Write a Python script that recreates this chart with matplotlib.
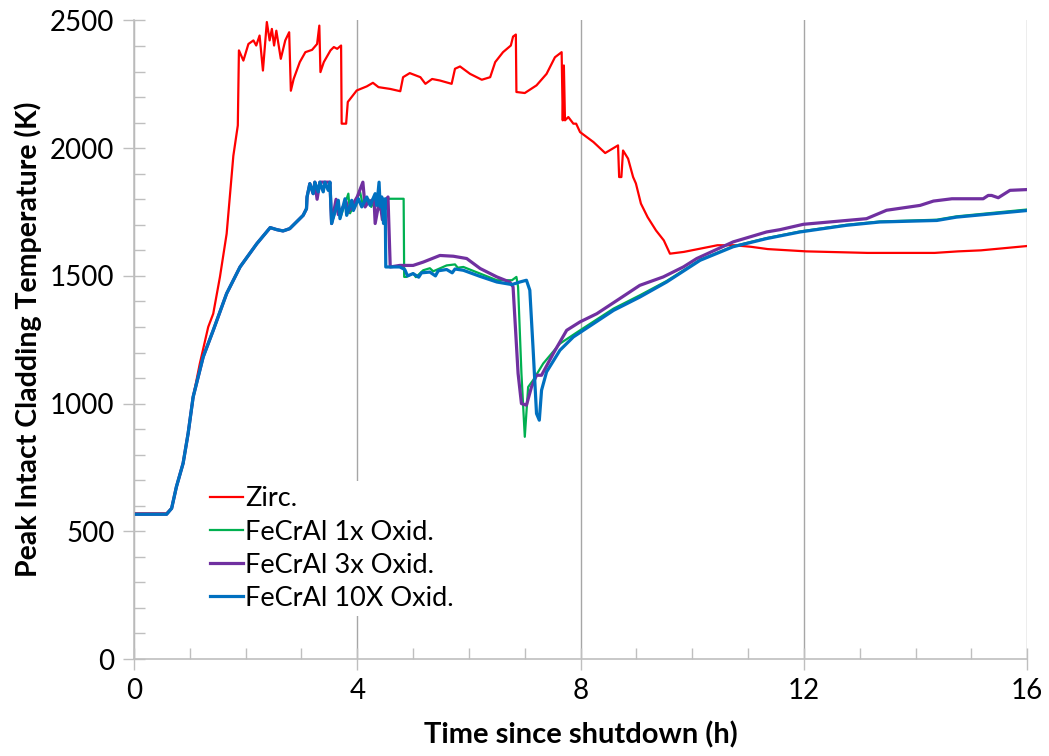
import matplotlib.pyplot as plt
from matplotlib.ticker import MultipleLocator

# time since shutdown (h) and peak cladding temperature (K) for each case
zirc_t = [0, 0.58, 0.675, 0.76, 0.88, 0.97, 1.06, 1.18, 1.33, 1.42, 1.54, 1.66, 1.78, 1.86,
          1.88, 1.96, 2.05, 2.14, 2.19, 2.25, 2.31, 2.38, 2.43, 2.47, 2.51, 2.55, 2.63, 2.71,
          2.78, 2.81, 2.86, 2.97, 3.07, 3.19, 3.28, 3.32, 3.34, 3.40, 3.52, 3.58, 3.64, 3.71,
          3.72, 3.80, 3.83, 3.99, 4.17, 4.28, 4.38, 4.59, 4.77, 4.82, 4.94, 5.13, 5.22, 5.34,
          5.48, 5.69, 5.75, 5.84, 6.02, 6.23, 6.38, 6.47, 6.61, 6.75, 6.79, 6.84, 6.85, 7.00,
          7.21, 7.39, 7.54, 7.66, 7.68, 7.70, 7.72, 7.78, 7.87, 7.92, 7.99, 8.23, 8.44, 8.67,
          8.69, 8.73, 8.76, 8.85, 8.94, 8.99, 9.08, 9.20, 9.35, 9.49, 9.60, 9.85, 10.15, 10.45,
          10.75, 11.05, 11.35, 12.04, 13.14, 14.34, 14.76, 15.17, 16.0]
zirc_T = [570, 570, 590, 674, 766, 883, 1026, 1157, 1300, 1352, 1496, 1665, 1970, 2089,
          2383, 2343, 2408, 2422, 2402, 2441, 2304, 2494, 2422, 2467, 2402, 2460, 2350, 2422,
          2454, 2225, 2271, 2337, 2376, 2385, 2408, 2480, 2298, 2337, 2383, 2396, 2389, 2402,
          2096, 2096, 2181, 2226, 2242, 2256, 2239, 2232, 2223, 2278, 2294, 2278, 2252, 2271,
          2265, 2252, 2311, 2320, 2291, 2268, 2278, 2337, 2376, 2402, 2437, 2445, 2220, 2216,
          2246, 2291, 2356, 2376, 2109, 2324, 2109, 2122, 2096, 2096, 2063, 2024, 1981, 2011,
          1887, 1887, 1991, 1959, 1887, 1862, 1783, 1730, 1678, 1639, 1587, 1594, 1607, 1620,
          1620, 1614, 1605, 1596, 1590, 1590, 1596, 1600, 1617]

ox1_t = [0, 0.585, 0.675, 0.76, 0.88, 0.97, 1.06, 1.24, 1.42, 1.66, 1.90, 2.20, 2.44, 2.56,
         2.67, 2.79, 2.91, 3.03, 3.09, 3.10, 3.15, 3.21, 3.24, 3.30, 3.33, 3.39, 3.42, 3.48,
         3.51, 3.54, 3.66, 3.70, 3.84, 3.87, 4.05, 4.10, 4.20, 4.25, 4.35, 4.40, 4.45, 4.50,
         4.55, 4.83, 4.84, 4.88, 5.00, 5.05, 5.18, 5.30, 5.36, 5.60, 5.75, 5.80, 5.90, 6.20,
         6.50, 6.77, 6.85, 6.88, 6.94, 7.00, 7.06, 7.15, 7.33, 7.63, 7.99, 8.59, 9.06, 9.54,
         10.14, 10.73, 11.33, 11.93, 12.76, 13.36, 14.38, 14.73, 16.0]
ox1_T = [567, 567, 590, 674, 766, 883, 1026, 1183, 1287, 1431, 1535, 1626, 1689, 1681,
         1676, 1685, 1711, 1737, 1763, 1809, 1861, 1822, 1867, 1829, 1867, 1829, 1867, 1835,
         1867, 1705, 1790, 1730, 1822, 1745, 1829, 1775, 1800, 1770, 1815, 1760, 1800, 1760,
         1802, 1802, 1496, 1496, 1510, 1495, 1522, 1530, 1518, 1541, 1545, 1532, 1535, 1509,
         1483, 1483, 1496, 1457, 1118, 870, 1065, 1092, 1157, 1235, 1287, 1372, 1424, 1480,
         1563, 1616, 1648, 1674, 1700, 1713, 1720, 1733, 1760]

ox3_t = [0, 0.585, 0.675, 0.76, 0.88, 0.97, 1.06, 1.24, 1.42, 1.66, 1.90, 2.20, 2.44, 2.56,
         2.67, 2.79, 2.91, 3.03, 3.09, 3.10, 3.15, 3.21, 3.24, 3.28, 3.33, 3.51, 3.54, 3.62,
         3.66, 3.80, 3.84, 4.00, 4.10, 4.14, 4.20, 4.30, 4.32, 4.40, 4.45, 4.52, 4.55, 4.59,
         4.76, 5.00, 5.18, 5.48, 5.72, 5.96, 6.20, 6.50, 6.73, 6.79, 6.88, 6.94, 7.03, 7.12,
         7.21, 7.30, 7.51, 7.75, 7.99, 8.29, 8.70, 9.06, 9.48, 9.84, 10.08, 10.73, 11.33,
         11.57, 11.99, 13.12, 13.48, 14.08, 14.32, 14.65, 15.21, 15.30, 15.36, 15.48, 15.69, 16.0]
ox3_T = [567, 567, 590, 674, 766, 883, 1026, 1183, 1287, 1431, 1535, 1626, 1689, 1681,
         1676, 1685, 1711, 1737, 1763, 1809, 1861, 1822, 1867, 1800, 1867, 1867, 1705, 1800,
         1740, 1790, 1750, 1810, 1867, 1770, 1790, 1800, 1705, 1800, 1720, 1800, 1809, 1535,
         1541, 1541, 1554, 1580, 1577, 1568, 1529, 1496, 1476, 1457, 1118, 1000, 994, 1065,
         1111, 1111, 1196, 1287, 1320, 1352, 1411, 1463, 1496, 1535, 1568, 1633, 1672,
         1681, 1702, 1724, 1757, 1776, 1793, 1802, 1802, 1815, 1815, 1806, 1835, 1838]

ox10_t = [0, 0.585, 0.675, 0.76, 0.88, 0.97, 1.06, 1.24, 1.42, 1.66, 1.90, 2.20, 2.44, 2.56,
          2.67, 2.79, 2.91, 3.03, 3.09, 3.10, 3.15, 3.21, 3.24, 3.30, 3.33, 3.39, 3.42, 3.48,
          3.51, 3.54, 3.66, 3.69, 3.78, 3.81, 3.90, 3.93, 4.02, 4.08, 4.17, 4.23, 4.32, 4.35,
          4.39, 4.41, 4.44, 4.47, 4.50, 4.51, 4.76, 4.85, 4.90, 5.00, 5.10, 5.15, 5.30, 5.40,
          5.45, 5.60, 5.70, 5.75, 5.90, 6.20, 6.50, 6.77, 6.91, 7.03, 7.09, 7.15, 7.21, 7.26,
          7.30, 7.39, 7.63, 7.87, 8.23, 8.59, 9.06, 9.54, 10.14, 10.73, 11.33, 11.93, 12.76,
          13.36, 14.38, 14.73, 16.0]
ox10_T = [567, 567, 590, 674, 766, 883, 1026, 1183, 1287, 1431, 1535, 1626, 1689, 1681,
          1676, 1685, 1711, 1737, 1763, 1809, 1861, 1822, 1867, 1829, 1867, 1829, 1867, 1835,
          1867, 1705, 1796, 1724, 1802, 1737, 1796, 1756, 1802, 1770, 1809, 1776, 1822, 1776,
          1867, 1770, 1809, 1705, 1802, 1535, 1535, 1525, 1500, 1509, 1495, 1512, 1515, 1500,
          1520, 1525, 1512, 1527, 1522, 1498, 1476, 1466, 1476, 1483, 1444, 1209, 961, 935,
          1052, 1124, 1209, 1261, 1313, 1365, 1417, 1476, 1561, 1614, 1646, 1672, 1698,
          1711, 1717, 1730, 1756]

plt.rcParams['font.family'] = ['Lato', 'DejaVu Sans']

fig = plt.figure(figsize=(10.49, 7.56), dpi=100)
ax = fig.add_axes([0.1277, 0.1283, 0.8516, 0.8446])

ax.plot(zirc_t, zirc_T, color='#FF0000', lw=1.6, label='Zirc.')
ax.plot(ox1_t, ox1_T, color='#00B050', lw=1.6, label='FeCrAl 1x Oxid.')
ax.plot(ox3_t, ox3_T, color='#7030A0', lw=2.3, label='FeCrAl 3x Oxid.')
ax.plot(ox10_t, ox10_T, color='#0070C0', lw=2.3, label='FeCrAl 10X Oxid.')

ax.set_xlim(0, 16)
ax.set_ylim(0, 2500)
ax.xaxis.set_major_locator(MultipleLocator(4))
ax.xaxis.set_minor_locator(MultipleLocator(1))
ax.yaxis.set_major_locator(MultipleLocator(500))
ax.yaxis.set_minor_locator(MultipleLocator(100))
ax.grid(axis='x', which='major', color='#A6A6A6', lw=1)
ax.set_axisbelow(True)

for side in ['top', 'right']:
    ax.spines[side].set_visible(False)
for side in ['left', 'bottom']:
    ax.spines[side].set_color('#BFBFBF')
    ax.spines[side].set_linewidth(1.2)

ax.tick_params(which='major', direction='inout', length=16, width=1, color='#BFBFBF',
               labelsize=20, pad=6)
ax.tick_params(which='minor', direction='in', length=8, width=1, color='#BFBFBF')

ax.set_xlabel('Time since shutdown (h)', fontsize=21, fontweight='bold', labelpad=12)
ax.set_ylabel('Peak Intact Cladding Temperature (K)', fontsize=20.5, fontweight='bold',
              labelpad=6)

leg = ax.legend(loc='upper left', bbox_to_anchor=(0.064, 0.30), fontsize=19.5,
                frameon=True, facecolor='white', edgecolor='none', framealpha=1,
                handlelength=1.2, handletextpad=0.1, labelspacing=0.3,
                borderpad=0.2, fancybox=False)

fig.savefig('out.png', dpi=100)
